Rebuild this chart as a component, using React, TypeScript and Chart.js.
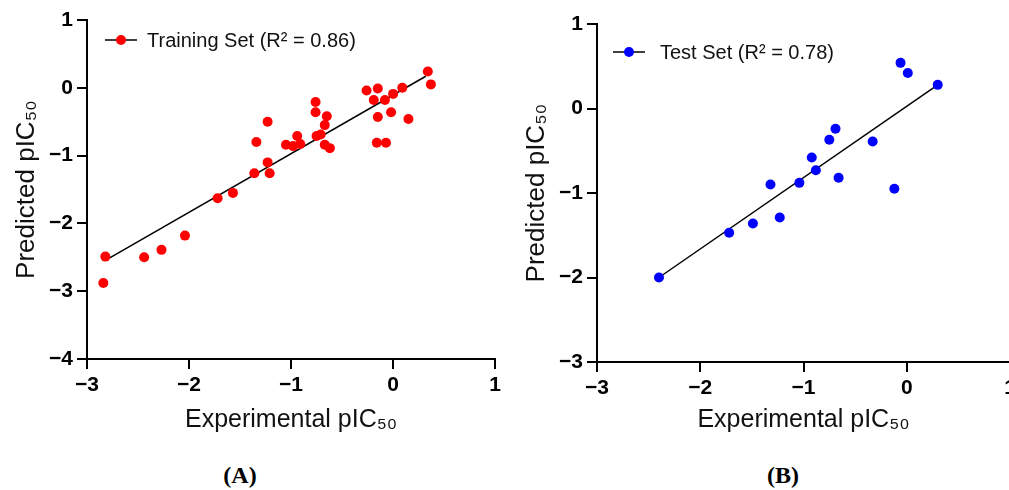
import React, { useEffect, useRef } from "react";
import { Chart, registerables } from "chart.js";

Chart.register(...registerables);

// ---------- data ----------
const trainX = [0.34, 0.37, -0.26, -0.15, 0.09, 0.0, -0.19, -0.08, -0.15, -0.02, 0.15, -0.16, -0.07, -0.76, -0.76, -0.65, -0.67, -0.71, -0.75, -0.67, -0.62, -0.94, -1.05, -0.98, -0.91, -1.23, -1.34, -1.23, -1.21, -1.36, -1.72, -1.57, -2.04, -2.27, -2.44, -2.82, -2.84];
const trainY = [0.24, 0.05, -0.04, -0.01, 0.0, -0.09, -0.18, -0.18, -0.43, -0.36, -0.46, -0.81, -0.81, -0.21, -0.36, -0.42, -0.55, -0.69, -0.71, -0.84, -0.89, -0.71, -0.84, -0.86, -0.83, -0.5, -0.8, -1.1, -1.26, -1.26, -1.63, -1.55, -2.18, -2.39, -2.5, -2.49, -2.88];
const trainFitX = [-2.79, 0.32];
const trainFitY = [-2.52, 0.17];

const testX = [-2.4, -1.72, -1.49, -1.32, -1.23, -1.04, -0.92, -0.88, -0.75, -0.69, -0.66, -0.33, -0.12, -0.06, 0.01, 0.3];
const testY = [-2.0, -1.47, -1.36, -0.9, -1.29, -0.88, -0.58, -0.73, -0.37, -0.24, -0.82, -0.39, -0.95, 0.54, 0.42, 0.28];
const testFitX = [-2.4, 0.3];
const testFitY = [-2.0, 0.28];

const xTicks = [-3, -2, -1, 0, 1];
const trainYTicks = [-4, -3, -2, -1, 0, 1];
const testYTicks = [-3, -2, -1, 0, 1];

const trainLegend = "Training Set (R\u00B2 = 0.86)";
const testLegend = "Test Set (R\u00B2 = 0.78)";
const xTitle = "Experimental pIC\u2085\u2080";
const yTitle = "Predicted pIC\u2085\u2080";
const panelLabels = ["(A)", "(B)"];

const SANS = '"Liberation Sans", Arial, sans-serif';

const fmt = (v: any) => {
  const n = Number(v);
  return n < 0 ? "\u2212" + Math.abs(n) : String(n);
};

type PanelCfg = {
  xs: number[];
  ys: number[];
  fitX: number[];
  fitY: number[];
  yTicks: number[];
  color: string;
  legend: string;
  padTop: number;
  padRight: number;
  yW: number;
  xH: number;
  yTitlePad: number;
  legLineX: number;
  legTextX: number;
  legY: number;
};

const legendPlugin = (cfg: PanelCfg) => ({
  id: "insideLegend",
  afterDraw(chart: any) {
    const { ctx, chartArea } = chart;
    const x0 = chartArea.left + cfg.legLineX;
    const y0 = chartArea.top + cfg.legY;
    ctx.save();
    ctx.strokeStyle = "#000";
    ctx.lineWidth = 1.5;
    ctx.beginPath();
    ctx.moveTo(x0, y0);
    ctx.lineTo(x0 + 32, y0);
    ctx.stroke();
    ctx.fillStyle = cfg.color;
    ctx.beginPath();
    ctx.arc(x0 + 16, y0, 5, 0, Math.PI * 2);
    ctx.fill();
    ctx.fillStyle = "#111";
    ctx.font = `20px ${SANS}`;
    ctx.textBaseline = "middle";
    ctx.textAlign = "left";
    ctx.fillText(cfg.legend, chartArea.left + cfg.legTextX, y0 + 1);
    ctx.restore();
  },
});

const axisCommon = {
  grid: {
    display: true,
    drawOnChartArea: false,
    drawTicks: true,
    tickLength: 10,
    color: "#000",
    lineWidth: 2,
  },
  border: { display: true, color: "#000", width: 2 },
};

function Panel({ cfg, left, width, height }: { cfg: PanelCfg; left: number; width: number; height: number }) {
  const ref = useRef<HTMLCanvasElement | null>(null);
  useEffect(() => {
    if (!ref.current) return;
    const chart = new Chart(ref.current, {
      type: "scatter",
      data: {
        datasets: [
          {
            data: cfg.xs.map((x, i) => ({ x, y: cfg.ys[i] })),
            backgroundColor: cfg.color,
            borderColor: cfg.color,
            borderWidth: 0,
            pointRadius: 5,
            pointHoverRadius: 5,
          },
          {
            type: "line",
            data: cfg.fitX.map((x, i) => ({ x, y: cfg.fitY[i] })),
            borderColor: "#000",
            borderWidth: 1.5,
            pointRadius: 0,
            showLine: true,
            fill: false,
          } as any,
        ],
      },
      options: {
        responsive: false,
        animation: false,
        events: [],
        layout: { padding: { top: cfg.padTop, right: cfg.padRight, left: 0, bottom: 0 } },
        plugins: { legend: { display: false }, tooltip: { enabled: false } },
        scales: {
          x: {
            type: "linear",
            min: xTicks[0],
            max: xTicks[xTicks.length - 1],
            afterBuildTicks: (s: any) => {
              s.ticks = xTicks.map((v) => ({ value: v }));
            },
            afterFit: (s: any) => {
              s.height = cfg.xH;
            },
            ticks: {
              callback: fmt,
              color: "#000",
              font: { family: SANS, size: 21, weight: "bold" },
              padding: 4,
              maxRotation: 0,
              autoSkip: false,
            },
            title: {
              display: true,
              text: xTitle,
              color: "#111",
              font: { family: SANS, size: 25 },
              padding: { top: 0, bottom: 10 },
            },
            ...axisCommon,
          },
          y: {
            type: "linear",
            min: cfg.yTicks[0],
            max: cfg.yTicks[cfg.yTicks.length - 1],
            afterBuildTicks: (s: any) => {
              s.ticks = cfg.yTicks.map((v) => ({ value: v }));
            },
            afterFit: (s: any) => {
              s.width = cfg.yW;
            },
            ticks: {
              callback: fmt,
              color: "#000",
              font: { family: SANS, size: 21, weight: "bold" },
              padding: 4,
              autoSkip: false,
            },
            title: {
              display: true,
              text: yTitle,
              color: "#111",
              font: { family: SANS, size: 26 },
              padding: { top: cfg.yTitlePad, bottom: 0 },
            },
            ...axisCommon,
          },
        },
      } as any,
      plugins: [legendPlugin(cfg)],
    });
    return () => chart.destroy();
  }, [cfg]);
  return (
    <canvas
      ref={ref}
      width={width}
      height={height}
      style={{ position: "absolute", left, top: 0, width, height }}
    />
  );
}

const trainCfg: PanelCfg = {
  xs: trainX,
  ys: trainY,
  fitX: trainFitX,
  fitY: trainFitY,
  yTicks: trainYTicks,
  color: "#ff0000",
  legend: trainLegend,
  padTop: 20,
  padRight: 7,
  yW: 87,
  xH: 86,
  yTitlePad: 11,
  legLineX: 18,
  legTextX: 60,
  legY: 20,
};

const testCfg: PanelCfg = {
  xs: testX,
  ys: testY,
  fitX: testFitX,
  fitY: testFitY,
  yTicks: testYTicks,
  color: "#0000ff",
  legend: testLegend,
  padTop: 24,
  padRight: 15,
  yW: 92,
  xH: 83,
  yTitlePad: 16,
  legLineX: 16,
  legTextX: 63,
  legY: 28,
};

export default function App() {
  const labelStyle = (cx: number): React.CSSProperties => ({
    position: "absolute",
    left: cx - 40,
    width: 80,
    top: 462,
    textAlign: "center",
    font: 'bold 24px "Liberation Serif", "Times New Roman", serif',
    color: "#000",
  });
  return (
    <div
      style={{
        position: "fixed",
        left: 0,
        top: 0,
        width: 1009,
        height: 490,
        overflow: "hidden",
        background: "#fff",
      }}
    >
      <Panel cfg={trainCfg} left={0} width={505} height={445} />
      <Panel cfg={testCfg} left={505} width={520} height={445} />
      <div style={labelStyle(240)}>{panelLabels[0]}</div>
      <div style={labelStyle(783)}>{panelLabels[1]}</div>
    </div>
  );
}
